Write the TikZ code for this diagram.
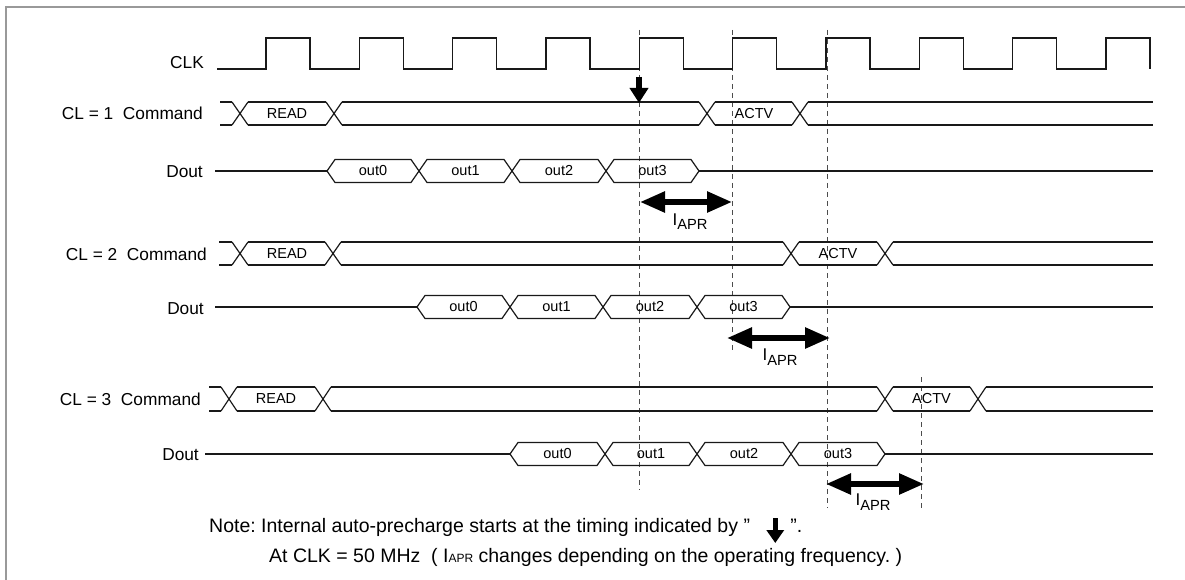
\documentclass[tikz,border=0pt]{standalone}
\usepackage{fontspec}
\setmainfont{Liberation Sans}
\usetikzlibrary{arrows.meta}
\frenchspacing
\newcommand{\tdX}[3]{\draw[sig] ({#1-8},#2) -- ({#1+8},#3) ({#1-8},#3) -- ({#1+8},#2);}
\newcommand{\tdSeg}[4]{\draw[sig] (#1,#3) -- (#2,#3) (#1,#4) -- (#2,#4);}
% Dout row: #1 yc, #2 line start, #3..#7 transition centres, #8 name prefix
\newcommand{\tdDout}[8]{%
  \draw[sig] (#2,#1) -- (#3,#1);
  \draw[sig] (#3,#1) -- ({#3+8},{#1-11.5}) -- ({#4-8},{#1-11.5}) -- ({#4+8},{#1+11.5}) -- ({#5-8},{#1+11.5}) -- ({#5+8},{#1-11.5}) -- ({#6-8},{#1-11.5}) -- ({#6+8},{#1+11.5}) -- ({#7-8},{#1+11.5}) -- (#7,#1);
  \draw[sig] (#3,#1) -- ({#3+8},{#1+11.5}) -- ({#4-8},{#1+11.5}) -- ({#4+8},{#1-11.5}) -- ({#5-8},{#1-11.5}) -- ({#5+8},{#1+11.5}) -- ({#6-8},{#1+11.5}) -- ({#6+8},{#1-11.5}) -- ({#7-8},{#1-11.5}) -- (#7,#1);
  \draw[sig] (#7,#1) -- (1153,#1);
  \node[boxtxt] (#8o0) at ({(#3+#4)/2},#1) {out0};
  \node[boxtxt] (#8o1) at ({(#4+#5)/2},#1) {out1};
  \node[boxtxt] (#8o2) at ({(#5+#6)/2},#1) {out2};
  \node[boxtxt] (#8o3) at ({(#6+#7)/2},#1) {out3};
}
\begin{document}
\begin{tikzpicture}[x=1pt,y=-1pt,
  sig/.style={line width=1.2pt, black!90},
  guide/.style={line width=1pt, black!70, dash pattern=on 5pt off 4pt},
  lbl/.style={anchor=base east, inner sep=0pt, font=\fontsize{17.3}{20}\selectfont},
  boxtxt/.style={inner sep=0pt, font=\fontsize{14.5}{16}\selectfont},
  apr/.style={anchor=base, inner sep=0pt, font=\fontsize{17}{20}\selectfont},
  notetxt/.style={anchor=base west, inner sep=0pt, font=\fontsize{19.5}{22}\selectfont},
  dbl/.style={line width=5.5pt, {Triangle[length=25pt,width=20pt]}-{Triangle[length=25pt,width=20pt]}},
  downarr/.style={line width=5.5pt, -{Triangle[length=15pt,width=18pt]}},
  notearr/.style={line width=4.5pt, -{Triangle[length=13pt,width=17pt]}},
  frame/.style={line width=1.2pt, black!40}]
\useasboundingbox (0,0) rectangle (1185,580);
\draw[frame] (6,580) -- (6,7) -- (1185,7);

% guide lines
\draw[guide] (639,30) -- (639,490);
\draw[guide] (732,30) -- (732,353);
\draw[guide] (827,30) -- (827,508);
\draw[guide] (921,377) -- (921,508);

% labels
\node[lbl] (lclk) at (204,69) {CLK};
\node[lbl] (lc1) at (203,120) {CL = 1\ \ Command};
\node[lbl] (ld1) at (203,178) {Dout};
\node[lbl] (lc2) at (207,260) {CL = 2\ \ Command};
\node[lbl] (ld2) at (204,314) {Dout};
\node[lbl] (lc3) at (201,405) {CL = 3\ \ Command};
\node[lbl] (ld3) at (199,460) {Dout};

% clock
\draw[sig] (217,69) foreach \k in {0,...,9} { -- ({266+93.333*\k},69) -- ++(0,-31) -- ++(44,0) -- ++(0,31) };

% CL=1 command
\tdSeg{220}{232}{102}{125}
\tdX{240}{102}{125}
\tdSeg{248}{326}{102}{125}
\tdX{334}{102}{125}
\tdSeg{342}{699}{102}{125}
\tdX{707}{102}{125}
\tdSeg{715}{792}{102}{125}
\tdX{800}{102}{125}
\tdSeg{808}{1153}{102}{125}
\node[boxtxt] (c1read) at (287,113.5) {READ};
\node[boxtxt] (c1actv) at (754,113.5) {ACTV};

% CL=1 Dout
\tdDout{171}{215}{327}{419}{512}{606}{699}{da}

% CL=2 command
\tdSeg{219}{232}{242}{265}
\tdX{240}{242}{265}
\tdSeg{248}{325}{242}{265}
\tdX{333}{242}{265}
\tdSeg{341}{783}{242}{265}
\tdX{791}{242}{265}
\tdSeg{799}{877}{242}{265}
\tdX{885}{242}{265}
\tdSeg{893}{1153}{242}{265}
\node[boxtxt] (c2read) at (287,253.5) {READ};
\node[boxtxt] (c2actv) at (838,253.5) {ACTV};

% CL=2 Dout
\tdDout{307}{215}{417}{510}{603}{697}{790}{db}

% CL=3 command
\tdSeg{209}{221}{387}{411}
\tdX{229}{387}{411}
\tdSeg{237}{315}{387}{411}
\tdX{323}{387}{411}
\tdSeg{331}{877}{387}{411}
\tdX{885}{387}{411}
\tdSeg{893}{970}{387}{411}
\tdX{978}{387}{411}
\tdSeg{986}{1153}{387}{411}
\node[boxtxt] (c3read) at (276,399) {READ};
\node[boxtxt] (c3actv) at (931.5,399) {ACTV};

% CL=3 Dout
\tdDout{454}{205}{510}{605}{697}{791}{885}{dc}

% auto-precharge start arrow
\coordinate (pa) at (639,77);
\coordinate (pb) at (639,103);
\draw[downarr] (pa) -- (pb);

% tAPR arrows
\coordinate (a1s) at (640,202); \coordinate (a1e) at (732,202);
\draw[dbl] (a1s) -- (a1e);
\node[apr] (t1) at (690,225) {I\raisebox{-5pt}{\fontsize{14.7}{15}\selectfont APR}};
\coordinate (a2s) at (727,338); \coordinate (a2e) at (830,338);
\draw[dbl] (a2s) -- (a2e);
\node[apr] (t2) at (780,360) {I\raisebox{-5pt}{\fontsize{14.7}{15}\selectfont APR}};
\coordinate (a3s) at (826,484); \coordinate (a3e) at (924,484);
\draw[dbl] (a3s) -- (a3e);
\node[apr] (t3) at (873,505) {I\raisebox{-5pt}{\fontsize{14.7}{15}\selectfont APR}};

% note
\node[notetxt] (note1) at (209,532) {Note: Internal auto-precharge starts at the timing indicated by \char34};
\draw[notearr] ([xshift=25pt,yshift=14pt]note1.base east) -- ++(0,25);
\node[notetxt] (note1b) at ([xshift=40pt]note1.base east) {\char34.};
\node[notetxt] (note2) at (269,562) {At CLK = 50 MHz\ \ ( I{\fontsize{12}{12}\selectfont APR} changes depending on the operating frequency. )};
\end{tikzpicture}
\end{document}
